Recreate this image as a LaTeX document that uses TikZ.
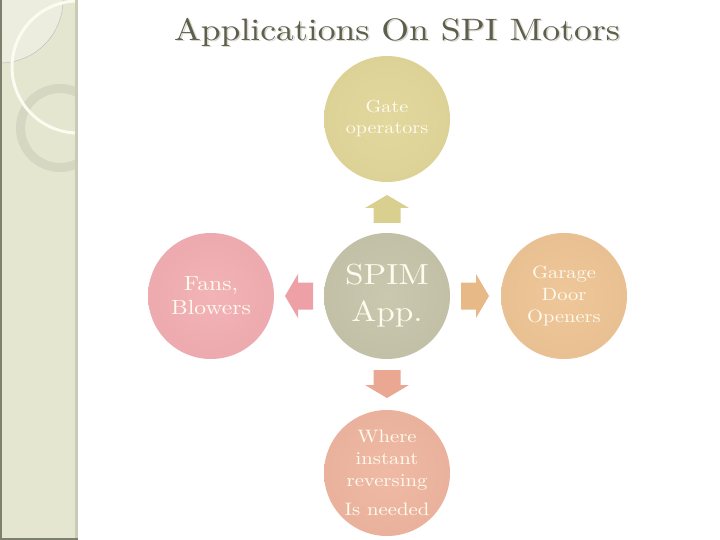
\documentclass[tikz,border=0pt]{standalone}
\usepackage{fontspec}
\setmainfont{lmroman10-regular.otf}[FakeStretch=1.15]
\definecolor{sidebar}{HTML}{E4E6D0}
\definecolor{sidelight}{HTML}{ECEDDE}
\definecolor{sideedge}{HTML}{C9CBB5}
\definecolor{sidedark}{HTML}{7D806C}
\definecolor{ringcol}{HTML}{D5D7C3}
\definecolor{arccol}{HTML}{FBFBF0}
\definecolor{titlecol}{HTML}{5E5E4C}
\definecolor{titleshadow}{HTML}{D6D6CC}
\definecolor{txtcol}{HTML}{FFFBEE}
\definecolor{gateC}{HTML}{E2D89E}\definecolor{gateE}{HTML}{CDBF7E}
\definecolor{spimC}{HTML}{CAC9B0}\definecolor{spimE}{HTML}{A8A78E}
\definecolor{fansC}{HTML}{F2B3B7}\definecolor{fansE}{HTML}{DC8E96}
\definecolor{garC}{HTML}{EEC79A}\definecolor{garE}{HTML}{D9AA76}
\definecolor{botC}{HTML}{EFBAA5}\definecolor{botE}{HTML}{D99881}
\definecolor{gateA}{HTML}{D9CF8F}
\definecolor{fansA}{HTML}{EDA0A6}
\definecolor{garA}{HTML}{E6B986}
\definecolor{botA}{HTML}{EAA892}
\pgfdeclareradialshading{gateshade}{\pgfpoint{0bp}{0bp}}{color(0bp)=(gateC);color(30bp)=(gateC!70!gateE);color(50bp)=(gateE)}
\pgfdeclareradialshading{spimshade}{\pgfpoint{0bp}{0bp}}{color(0bp)=(spimC);color(30bp)=(spimC!70!spimE);color(50bp)=(spimE)}
\pgfdeclareradialshading{fansshade}{\pgfpoint{0bp}{0bp}}{color(0bp)=(fansC);color(30bp)=(fansC!70!fansE);color(50bp)=(fansE)}
\pgfdeclareradialshading{garshade}{\pgfpoint{0bp}{0bp}}{color(0bp)=(garC);color(30bp)=(garC!70!garE);color(50bp)=(garE)}
\pgfdeclareradialshading{botshade}{\pgfpoint{0bp}{0bp}}{color(0bp)=(botC);color(30bp)=(botC!70!botE);color(50bp)=(botE)}
\tikzset{
  circ/.style={circle, minimum size=126pt, inner sep=0pt, align=center, text=txtcol},
  blockarrow/.pic={\fill[pic actions] (-14,-13.5) -- (1,-13.5) -- (1,-22) -- (14,0) -- (1,22) -- (1,13.5) -- (-14,13.5) -- cycle;}
}
\begin{document}
\begin{tikzpicture}[x=1pt,y=-1pt]
\useasboundingbox (0,0) rectangle (720,540);
\fill[white] (0,0) rectangle (720,540);
% sidebar
\fill[sidebar] (0,0) rectangle (78,540);
\begin{scope}
  \clip (0,0) rectangle (76,540);
  \fill[sidelight] (0,0) -- (63,0) arc[start angle=0,end angle=90,radius=63] -- cycle;
  \draw[line width=0.5pt, black!25] (63,0) arc[start angle=0,end angle=90,radius=63];
  \draw[ringcol, line width=9pt] (60,128) circle[radius=39.5];
  \draw[arccol, line width=3pt] (78,67) circle[radius=66];
\end{scope}
\fill[sideedge] (75,0) rectangle (78,540);
\fill[sidedark] (0,0) rectangle (2,540);
\fill[sidedark] (0,538) rectangle (78,540);
% title
\node[font=\fontsize{31}{36}\selectfont, text=titleshadow] at (398.5,33.5) {Applications On SPI Motors};
\node[font=\fontsize{31}{36}\selectfont, text=titlecol] (title) at (397,32) {Applications On SPI Motors};
% circles
\node[circ, shading=spimshade, font=\fontsize{29}{37}\selectfont] (spim) at (387,296) {SPIM\\App.};
\node[circ, shading=gateshade, font=\fontsize{17.5}{21}\selectfont] (gate) at (387,119) {Gate\\operators};
\node[circ, shading=fansshade, font=\fontsize{20.5}{24}\selectfont] (fans) at (211,296) {Fans,\\Blowers};
\node[circ, shading=garshade, font=\fontsize{17.8}{22}\selectfont] (garage) at (564,296) {Garage\\Door\\Openers};
\node[circ, shading=botshade, font=\fontsize{18}{22}\selectfont] (bottom) at (387,473) {Where\\instant\\reversing\\[7pt]Is needed};
% arrows
\pic[fill=gateA, rotate=90] at (387,209) {blockarrow};
\pic[fill=fansA, rotate=180] at (299,296) {blockarrow};
\pic[fill=garA] at (475,296) {blockarrow};
\pic[fill=botA, rotate=-90] at (387,384) {blockarrow};
\end{tikzpicture}
\end{document}
